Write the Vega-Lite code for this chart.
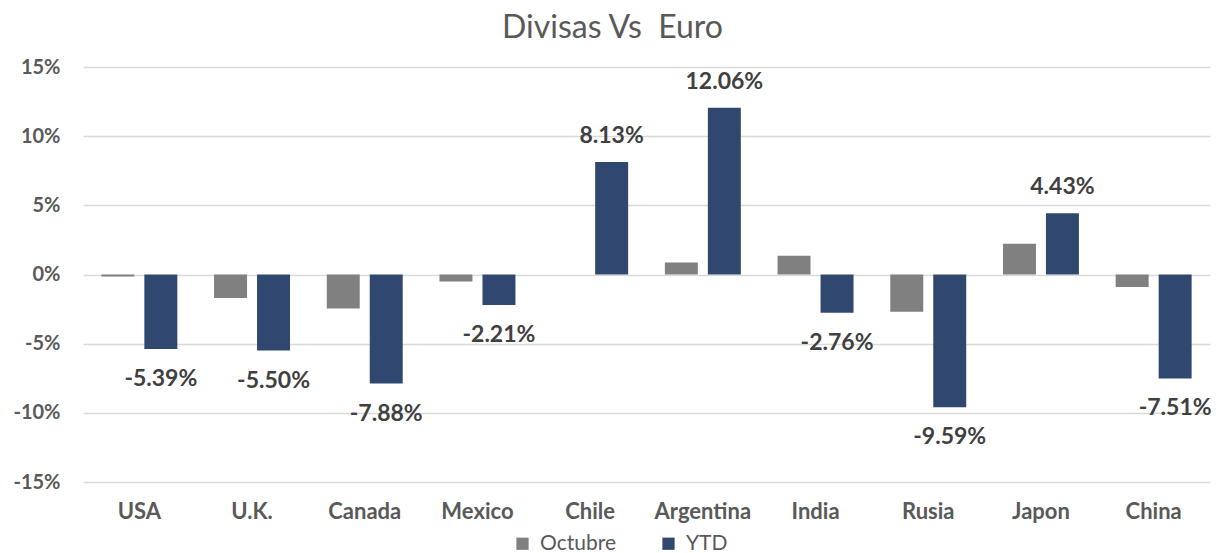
{
  "$schema": "https://vega.github.io/schema/vega-lite/v6.json",
  "autosize": "none",
  "width": 1127,
  "height": 415,
  "padding": {"left": 83, "top": 67, "right": 9, "bottom": 71},
  "title": {
    "text": "Divisas Vs\u00a0 Euro",
    "font": "Lato",
    "fontSize": 32,
    "fontWeight": "normal",
    "color": "#595959",
    "anchor": "middle",
    "dx": -34,
    "offset": 12
  },
  "config": {
    "view": {"stroke": null},
    "locale": {
      "number": {"decimal": ".", "thousands": ",", "grouping": [3], "currency": ["$", ""], "minus": "-"}
    }
  },
  "data": {
    "values": [
      {"country": "USA", "series": "Octubre", "value": -0.0015},
      {"country": "USA", "series": "YTD", "value": -0.0539},
      {"country": "U.K.", "series": "Octubre", "value": -0.0169},
      {"country": "U.K.", "series": "YTD", "value": -0.0550},
      {"country": "Canada", "series": "Octubre", "value": -0.0246},
      {"country": "Canada", "series": "YTD", "value": -0.0788},
      {"country": "Mexico", "series": "Octubre", "value": -0.005},
      {"country": "Mexico", "series": "YTD", "value": -0.0221},
      {"country": "Chile", "series": "Octubre", "value": 0},
      {"country": "Chile", "series": "YTD", "value": 0.0813},
      {"country": "Argentina", "series": "Octubre", "value": 0.0087},
      {"country": "Argentina", "series": "YTD", "value": 0.1206},
      {"country": "India", "series": "Octubre", "value": 0.0135},
      {"country": "India", "series": "YTD", "value": -0.0276},
      {"country": "Rusia", "series": "Octubre", "value": -0.027},
      {"country": "Rusia", "series": "YTD", "value": -0.0959},
      {"country": "Japon", "series": "Octubre", "value": 0.0222},
      {"country": "Japon", "series": "YTD", "value": 0.0443},
      {"country": "China", "series": "Octubre", "value": -0.009},
      {"country": "China", "series": "YTD", "value": -0.0751}
    ]
  },
  "encoding": {
    "x": {
      "field": "country",
      "type": "nominal",
      "sort": ["USA", "U.K.", "Canada", "Mexico", "Chile", "Argentina", "India", "Rusia", "Japon", "China"],
      "scale": {"paddingInner": 0.326, "paddingOuter": 0.163},
      "axis": {
        "title": null,
        "labelAngle": 0,
        "labelFont": "Lato",
        "labelFontWeight": "bold",
        "labelFontSize": 22,
        "labelColor": "#595959",
        "labelPadding": 19,
        "ticks": false,
        "domain": false,
        "grid": false
      }
    },
    "xOffset": {
      "field": "series",
      "type": "nominal",
      "sort": ["Octubre", "YTD"],
      "scale": {"paddingInner": 0.233, "paddingOuter": 0}
    },
    "y": {
      "field": "value",
      "type": "quantitative",
      "scale": {"domain": [-0.15, 0.15], "nice": false},
      "axis": {
        "title": null,
        "values": [-0.15, -0.1, -0.05, 0, 0.05, 0.1, 0.15],
        "format": ".0%",
        "labelFont": "Lato",
        "labelFontWeight": "bold",
        "labelFontSize": 20,
        "labelColor": "#595959",
        "labelPadding": 23,
        "ticks": false,
        "domain": false,
        "grid": true,
        "gridColor": "#D9D9D9",
        "gridWidth": 1.5
      }
    }
  },
  "layer": [
    {
      "mark": {"type": "bar"},
      "encoding": {
        "color": {
          "field": "series",
          "type": "nominal",
          "sort": ["Octubre", "YTD"],
          "scale": {"domain": ["Octubre", "YTD"], "range": ["#808080", "#304870"]},
          "legend": {
            "title": null,
            "orient": "none",
            "legendX": 429,
            "legendY": 466,
            "direction": "horizontal",
            "symbolType": "square",
            "symbolSize": 150,
            "symbolStrokeWidth": 0,
            "labelFont": "Lato",
            "labelFontSize": 21,
            "labelColor": "#595959",
            "labelOffset": 7,
            "columnPadding": 42
          }
        }
      }
    },
    {
      "transform": [{"filter": "datum.series == 'YTD' && datum.value > 0"}],
      "mark": {"type": "text", "baseline": "alphabetic", "dy": -19, "font": "Lato", "fontSize": 23, "fontWeight": "bold", "color": "#404040"},
      "encoding": {
        "text": {"field": "value", "type": "quantitative", "format": ".2%"}
      }
    },
    {
      "transform": [{"filter": "datum.series == 'YTD' && datum.value < 0"}],
      "mark": {"type": "text", "baseline": "top", "dy": 19, "font": "Lato", "fontSize": 23, "fontWeight": "bold", "color": "#404040"},
      "encoding": {
        "text": {"field": "value", "type": "quantitative", "format": ".2%"}
      }
    }
  ]
}
